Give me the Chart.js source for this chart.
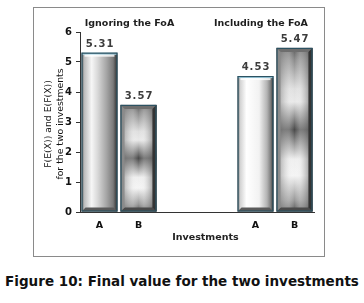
<!DOCTYPE html>
<html><head><meta charset="utf-8">
<script src="https://cdn.jsdelivr.net/npm/chart.js@4/dist/chart.umd.min.js"></script>
<style>
html,body{margin:0;padding:0;background:#fff;width:364px;height:303px;overflow:hidden}
#frame{position:absolute;left:33px;top:7px;width:290px;height:248px;border:1px solid #8a8a8a;background:#fff}
#wrap{position:absolute;left:0;top:0;width:290px;height:248px}
#cap{position:absolute;left:0;top:273px;width:364px;text-align:center;font:bold 13.5px "DejaVu Sans";color:#111;white-space:nowrap}
</style></head><body>
<div id="frame"><div id="wrap"><canvas id="c"></canvas></div></div>
<div id="cap">Figure 10: Final value for the two investments</div>
<script>
// ---- data ----
const categories = ['A', 'B', '', '', 'A', 'B'];
const values = [5.31, 3.57, null, null, 4.53, 5.47];
const yTicks = [0, 1, 2, 3, 4, 5, 6];
const groupTitles = ['Ignoring the FoA', 'Including the FoA'];
const yTitleLines = ['F(E(X)) and E(F(X))', 'for the two investments'];
const xTitle = 'Investments';

// ---- styles (per bar slot) ----
const barLook = ['cyl', 'pyr', null, null, 'cyl2', 'pyr'];
const groupTitleFrac = [0.2115, 0.7735];
const xTitleFrac = 0.536;

function stops(g, arr){ arr.forEach(s => g.addColorStop(s[0], s[1])); return g; }

const barPainter = {
  id: 'barPainter',
  afterDatasetsDraw(chart) {
    const ctx = chart.ctx;
    const meta = chart.getDatasetMeta(0);
    meta.data.forEach((el, i) => {
      if (values[i] == null) return;
      const p = el.getProps(['x', 'y', 'base', 'width'], true);
      const l = p.x - p.width / 2, r = p.x + p.width / 2, t = p.y, b = p.base;
      const w = r - l, h = b - t;
      ctx.save();
      const look = barLook[i];
      if (look === 'cyl' || look === 'cyl2') {
        const g = ctx.createLinearGradient(l, 0, r, 0);
        if (look === 'cyl') stops(g, [[0,'#6a6a6a'],[0.08,'#bdbdbd'],[0.28,'#f6f6f6'],[0.45,'#d8d8d8'],[0.7,'#a4a4a4'],[0.88,'#7a7a7a'],[1,'#2a2a2a']]);
        else stops(g, [[0,'#7a7a7a'],[0.08,'#d4d4d4'],[0.25,'#ffffff'],[0.6,'#f2f2f2'],[0.82,'#b4b4b4'],[0.93,'#7a7a7a'],[1,'#2a2a2a']]);
        ctx.fillStyle = g; ctx.fillRect(l, t, w, h);
        ctx.fillStyle = '#a9d9ea'; ctx.fillRect(l, t, w, 2);
        ctx.fillStyle = 'rgba(255,255,255,0.8)'; ctx.fillRect(l + 3, t + 2, w - 6, 2);
        ctx.fillStyle = '#5a5a5a';
        ctx.beginPath(); ctx.moveTo(l, b); ctx.lineTo(r, b); ctx.lineTo(r - 4, b - 4); ctx.lineTo(l + 4, b - 4); ctx.closePath(); ctx.fill();
      } else {
        const gv = ctx.createLinearGradient(0, t, 0, b);
        stops(gv, [[0,'#5e5e5e'],[0.07,'#8a8a8a'],[0.25,'#dedede'],[0.33,'#e8e8e8'],[0.5,'#4a4a4a'],[0.68,'#eeeeee'],[0.78,'#f4f4f4'],[0.93,'#9a9a9a'],[1,'#5a5a5a']]);
        ctx.fillStyle = gv; ctx.fillRect(l, t, w, h);
        const gh = ctx.createLinearGradient(l, 0, r, 0);
        stops(gh, [[0,'rgba(70,70,70,0.85)'],[0.12,'rgba(150,150,150,0.55)'],[0.35,'rgba(235,235,235,0.3)'],[0.5,'rgba(255,255,255,0)'],[0.65,'rgba(235,235,235,0.3)'],[0.88,'rgba(120,120,120,0.55)'],[1,'rgba(40,40,40,0.9)']]);
        ctx.fillStyle = gh; ctx.fillRect(l, t, w, h);
        ctx.fillStyle = '#6e6e6e';
        ctx.beginPath(); ctx.moveTo(l, t); ctx.lineTo(r, t); ctx.lineTo(r - 4, t + 4); ctx.lineTo(l + 4, t + 4); ctx.closePath(); ctx.fill();
        ctx.fillStyle = '#4a4a4a';
        ctx.beginPath(); ctx.moveTo(l, b); ctx.lineTo(r, b); ctx.lineTo(r - 4, b - 4); ctx.lineTo(l + 4, b - 4); ctx.closePath(); ctx.fill();
        ctx.fillStyle = 'rgba(140,140,140,0.9)';
        ctx.beginPath(); ctx.moveTo(l, t); ctx.lineTo(l + 4, t + 4); ctx.lineTo(l + 4, b - 4); ctx.lineTo(l, b); ctx.closePath(); ctx.fill();
        ctx.fillStyle = 'rgba(50,50,50,0.95)';
        ctx.beginPath(); ctx.moveTo(r, t); ctx.lineTo(r - 4, t + 4); ctx.lineTo(r - 4, b - 4); ctx.lineTo(r, b); ctx.closePath(); ctx.fill();
      }
      ctx.strokeStyle = '#2c5262'; ctx.lineWidth = 1.2;
      ctx.strokeRect(l + 0.5, t + 0.5, w - 1, h - 1);
      ctx.fillStyle = '#3c3c3c';
      ctx.font = 'bold 10px "DejaVu Sans"';
      ctx.letterSpacing = '1px';
      ctx.textAlign = 'center'; ctx.textBaseline = 'alphabetic';
      ctx.fillText(values[i].toFixed(2), p.x + 0.5, t - 6);
      ctx.restore();
    });
  }
};

const titlePainter = {
  id: 'titlePainter',
  afterDraw(chart) {
    const ctx = chart.ctx, a = chart.chartArea;
    ctx.save();
    ctx.fillStyle = '#1e1e1e';
    ctx.font = 'bold 9.5px "DejaVu Sans"';
    ctx.textAlign = 'center'; ctx.textBaseline = 'middle';
    groupTitles.forEach((s, k) => ctx.fillText(s, a.left + groupTitleFrac[k] * (a.right - a.left), 16));
    ctx.fillStyle = '#222';
    ctx.fillText(xTitle, a.left + xTitleFrac * (a.right - a.left), 230);
    ctx.font = '9.3px "DejaVu Sans"';
    ctx.fillStyle = '#111';
    const cy = (a.top + a.bottom) / 2 + 2;
    yTitleLines.forEach((s, k) => {
      ctx.save();
      ctx.translate(15 + k * 12, cy);
      ctx.rotate(-Math.PI / 2);
      ctx.fillText(s, 0, 0);
      ctx.restore();
    });
    ctx.restore();
  }
};

new Chart(document.getElementById('c'), {
  type: 'bar',
  data: {
    labels: categories,
    datasets: [{ data: values, backgroundColor: '#bbbbbb', borderWidth: 0, barPercentage: 0.92, categoryPercentage: 1 }]
  },
  options: {
    responsive: true, maintainAspectRatio: false, animation: false,
    events: [],
    layout: { padding: { top: 24, right: 10, left: 0, bottom: 0 } },
    plugins: { legend: { display: false }, tooltip: { enabled: false }, title: { display: false } },
    scales: {
      x: {
        grid: { display: false, tickLength: 0 },
        border: { display: true, color: '#333', width: 1 },
        ticks: { color: '#111', font: { family: 'DejaVu Sans', weight: 'bold', size: 9.5 }, padding: 8, maxRotation: 0, autoSkip: false },
        afterFit(s) { s.height = 44; }
      },
      y: {
        min: 0, max: 6,
        afterBuildTicks(s) { s.ticks = yTicks.map(v => ({ value: v })); },
        grid: { display: true, drawOnChartArea: false, drawTicks: true, tickLength: 4, color: '#333' },
        border: { display: true, color: '#333', width: 1 },
        ticks: { color: '#111', font: { family: 'DejaVu Sans', weight: 'bold', size: 10 }, padding: 4 },
        afterFit(s) { s.width = 46; }
      }
    }
  },
  plugins: [barPainter, titlePainter]
});
</script>
</body></html>
